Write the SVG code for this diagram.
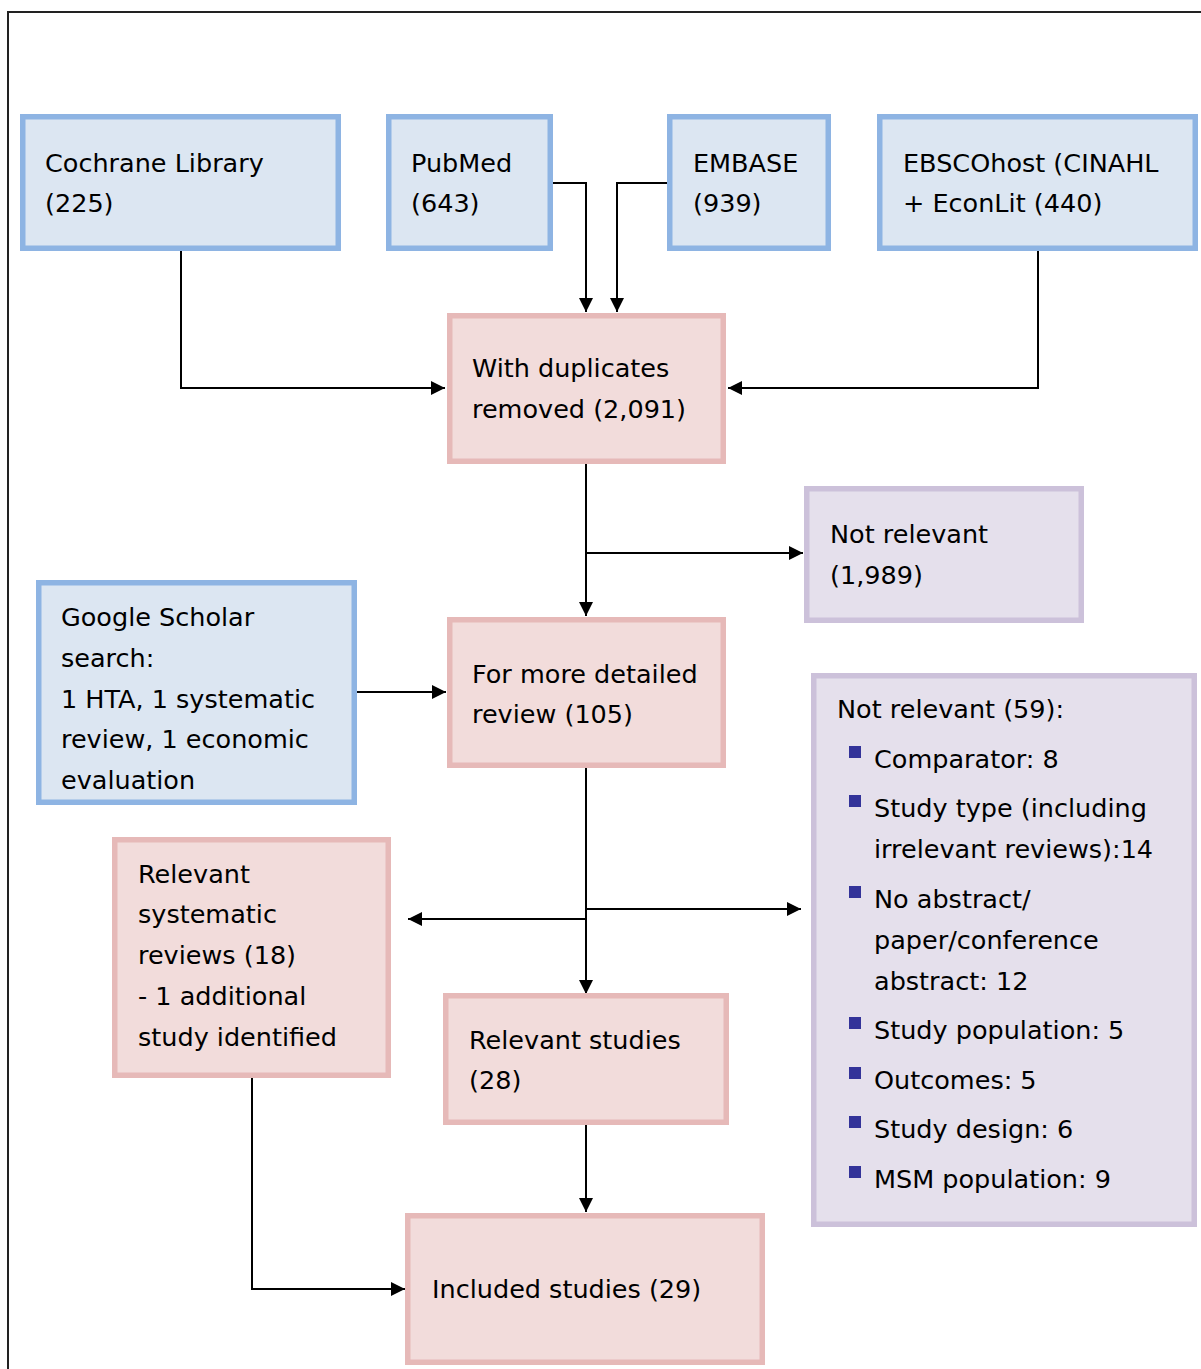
<svg xmlns="http://www.w3.org/2000/svg" width="1201" height="1369" viewBox="0 0 1201 1369">
<style>
.t{font-family:"DejaVu Sans","Verdana",sans-serif;font-size:25.5px;fill:#000}
.b{fill:#dce6f2;stroke:#8eb4e3;stroke-width:5.5}
.p{fill:#f2dcdb;stroke:#e6b9b8;stroke-width:5.5}
.v{fill:#e5e0ec;stroke:#ccc1da;stroke-width:5.5}
.c{fill:none;stroke:#000;stroke-width:2}
.bl{fill:#333399}
</style>
<defs>
<marker id="ah" markerUnits="userSpaceOnUse" markerWidth="16" markerHeight="16" viewBox="0 0 16 16" refX="15" refY="8" orient="auto">
<path d="M1,1 L15,8 L1,15 Z" fill="#000"/>
</marker>
</defs>
<rect width="1201" height="1369" fill="#fff"/>
<path d="M8,1369 V12 H1201" fill="none" stroke="#222" stroke-width="2"/>

<g id="connectors">
<path class="c" d="M181,251 V388 H445" marker-end="url(#ah)"/>
<path class="c" d="M553,183 H586 V312" marker-end="url(#ah)"/>
<path class="c" d="M667,183 H617 V312" marker-end="url(#ah)"/>
<path class="c" d="M1038,251 V388 H728" marker-end="url(#ah)"/>
<path class="c" d="M586,464 V616" marker-end="url(#ah)"/>
<path class="c" d="M586,553 H803" marker-end="url(#ah)"/>
<path class="c" d="M357,692 H446" marker-end="url(#ah)"/>
<path class="c" d="M586,768 V994" marker-end="url(#ah)"/>
<path class="c" d="M586,909 H801" marker-end="url(#ah)"/>
<path class="c" d="M586,919 H408" marker-end="url(#ah)"/>
<path class="c" d="M586,1125 V1212" marker-end="url(#ah)"/>
<path class="c" d="M252,1078 V1289 H405" marker-end="url(#ah)"/>
</g>

<g id="cochrane">
<rect class="b" x="22.75" y="116.75" width="315.5" height="131.5"/>
<text class="t" x="45" y="172">Cochrane Library</text>
<text class="t" x="45" y="212">(225)</text>
</g>
<g id="pubmed">
<rect class="b" x="388.75" y="116.75" width="161.5" height="131.5"/>
<text class="t" x="411" y="172">PubMed</text>
<text class="t" x="411" y="212">(643)</text>
</g>
<g id="embase">
<rect class="b" x="669.75" y="116.75" width="158.5" height="131.5"/>
<text class="t" x="693" y="172">EMBASE</text>
<text class="t" x="693" y="212">(939)</text>
</g>
<g id="ebsco">
<rect class="b" x="879.75" y="116.75" width="315.5" height="131.5"/>
<text class="t" x="903" y="172">EBSCOhost (CINAHL</text>
<text class="t" x="903" y="212">+ EconLit (440)</text>
</g>
<g id="duplicates">
<rect class="p" x="449.75" y="315.75" width="273.5" height="145.5"/>
<text class="t" x="472" y="377">With duplicates</text>
<text class="t" x="472" y="418">removed (2,091)</text>
</g>
<g id="notrelevant1">
<rect class="v" x="806.75" y="488.75" width="274.5" height="131.5"/>
<text class="t" x="830" y="543">Not relevant</text>
<text class="t" x="830" y="584">(1,989)</text>
</g>
<g id="google">
<rect class="b" x="38.75" y="582.75" width="315.5" height="219.5"/>
<text class="t" x="61" y="626">Google Scholar</text>
<text class="t" x="61" y="667">search:</text>
<text class="t" x="61" y="708">1 HTA, 1 systematic</text>
<text class="t" x="61" y="748">review, 1 economic</text>
<text class="t" x="61" y="789">evaluation</text>
</g>
<g id="detailed">
<rect class="p" x="449.75" y="619.75" width="273.5" height="145.5"/>
<text class="t" x="472" y="683">For more detailed</text>
<text class="t" x="472" y="723">review (105)</text>
</g>
<g id="notrelevant2">
<rect class="v" x="813.75" y="675.75" width="380.5" height="548.5"/>
<text class="t" x="837" y="718">Not relevant (59):</text>
<rect class="bl" x="849" y="746" width="12" height="12"/>
<text class="t" x="874" y="768">Comparator: 8</text>
<rect class="bl" x="849" y="795" width="12" height="12"/>
<text class="t" x="874" y="817">Study type (including</text>
<text class="t" x="874" y="858">irrelevant reviews):14</text>
<rect class="bl" x="849" y="886" width="12" height="12"/>
<text class="t" x="874" y="908">No abstract/</text>
<text class="t" x="874" y="949">paper/conference</text>
<text class="t" x="874" y="990">abstract: 12</text>
<rect class="bl" x="849" y="1017" width="12" height="12"/>
<text class="t" x="874" y="1039">Study population: 5</text>
<rect class="bl" x="849" y="1067" width="12" height="12"/>
<text class="t" x="874" y="1089">Outcomes: 5</text>
<rect class="bl" x="849" y="1116" width="12" height="12"/>
<text class="t" x="874" y="1138">Study design: 6</text>
<rect class="bl" x="849" y="1166" width="12" height="12"/>
<text class="t" x="874" y="1188">MSM population: 9</text>
</g>
<g id="sysreviews">
<rect class="p" x="114.75" y="839.75" width="273.5" height="235.5"/>
<text class="t" x="138" y="883">Relevant</text>
<text class="t" x="138" y="923">systematic</text>
<text class="t" x="138" y="964">reviews (18)</text>
<text class="t" x="138" y="1005">- 1 additional</text>
<text class="t" x="138" y="1046">study identified</text>
</g>
<g id="relevantstudies">
<rect class="p" x="445.75" y="995.75" width="280.5" height="126.5"/>
<text class="t" x="469" y="1049">Relevant studies</text>
<text class="t" x="469" y="1089">(28)</text>
</g>
<g id="included">
<rect class="p" x="407.75" y="1215.75" width="354.5" height="146.5"/>
<text class="t" x="432" y="1298">Included studies (29)</text>
</g>
</svg>
